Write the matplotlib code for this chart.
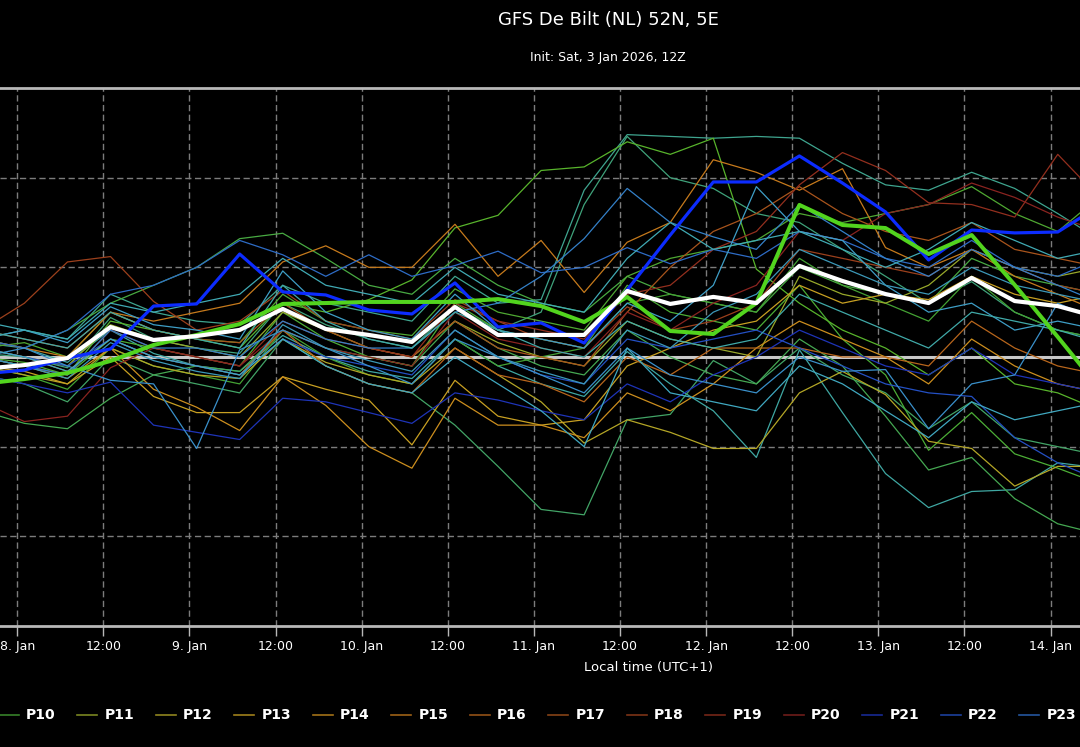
import pandas as pd
import matplotlib
matplotlib.use('Agg')
import matplotlib.pyplot as plt
from matplotlib.lines import Line2D

# 6-hourly steps, local time (UTC+1)
times = pd.date_range('2026-01-07 19:00', periods=27, freq='6h')

# ensemble members P01..P30 (deg C)
p01 = [0.8, 0.5, -0.3, 1.5, 0.2, -0.5, -0.8, 1.2, 0.0, -0.8, -1.2, 1.0, -0.5, -1.5, -2.2, 0.3, -1.5, -3.0, -5.6, 0.4, -3.1, -6.5, -8.4, -7.5, -7.4, -5.9, -6.2]
p02 = [1.0, 1.5, 1.0, 3.5, 2.5, 2.0, 1.8, 4.0, 3.0, 2.5, 2.0, 4.5, 3.0, 3.2, 9.3, 12.4, 12.3, 12.2, 12.3, 12.2, 10.8, 9.6, 9.3, 10.3, 9.4, 8.0, 6.5]
p03 = [0.2, 0.0, -0.6, 2.2, 1.0, 0.5, 0.2, 3.0, 1.8, 1.0, 0.5, 2.8, 1.5, 2.5, 8.5, 12.3, 10.0, 9.4, 8.0, 7.5, 6.0, 4.5, 3.0, 4.2, 2.5, 1.5, 1.0]
p04 = [-1.0, -1.5, -2.5, 0.0, -1.0, -1.5, -2.0, 1.0, -0.5, -1.5, -2.0, -3.8, -6.1, -8.5, -8.8, -3.5, -3.2, -0.2, -1.5, 0.5, -1.0, -2.0, -4.0, -2.5, -4.5, -5.0, -5.5]
p05 = [-3.0, -3.7, -4.0, -2.3, -1.0, -0.5, -0.8, 1.5, 0.5, 0.0, -0.5, 2.0, 0.5, -0.5, -1.0, 1.5, 0.0, -1.0, -1.5, 1.0, -0.5, -3.3, -6.3, -5.6, -7.9, -9.3, -9.9]
p06 = [1.0, 0.5, 1.5, 3.0, 4.0, 5.0, 6.6, 6.9, 5.5, 4.0, 3.5, 5.5, 4.0, 3.0, 2.5, 4.5, 3.5, 3.0, 2.5, 5.0, 4.0, 3.5, 3.0, 5.5, 4.5, 4.0, 3.5]
p07 = [0.0, -0.3, -1.0, 1.0, 0.5, 0.0, -0.5, 2.5, 1.0, 0.0, -0.5, 3.0, 1.5, 1.0, 0.5, 4.0, 2.5, 2.0, 1.5, 4.0, 1.0, -1.0, -5.2, -3.1, -5.4, -6.2, -7.1]
p08 = [0.0, -0.5, -1.0, 2.0, 1.5, 1.0, 0.5, 3.0, 2.5, 3.2, 4.3, 7.2, 7.9, 10.4, 10.6, 12.0, 11.3, 12.2, 4.9, 3.0, 1.5, 0.5, -1.0, 0.5, -1.5, -2.0, -3.0]
p09 = [0.5, 0.8, 0.0, 2.5, 1.5, 1.0, 0.8, 3.5, 2.0, 1.5, 1.2, 3.8, 2.5, 2.0, 1.5, 4.5, 5.5, 6.0, 6.5, 8.0, 7.5, 8.0, 8.5, 9.5, 8.0, 7.0, 9.0]
p10 = [-0.5, -1.0, -1.8, 0.5, -0.5, -1.0, -1.5, 1.5, 0.0, -1.0, -1.5, 1.0, -0.5, 0.0, 0.5, 3.0, 3.5, 3.0, 2.5, 5.5, 4.0, 3.0, 2.0, 4.5, 2.5, 1.5, 1.0]
p11 = [0.5, 0.0, -0.5, 1.8, 1.0, 0.5, 0.0, 2.5, 1.5, 0.5, 0.0, 2.0, 0.8, 0.0, -0.5, 2.0, 1.0, 0.5, 0.0, 4.5, 3.5, 3.0, 4.0, 6.0, 5.0, 4.5, 5.0]
p12 = [-0.5, -1.0, -1.5, 0.5, -0.5, -1.0, -1.2, 1.0, -0.3, -1.0, -1.5, 0.5, -1.0, -2.5, -4.8, -3.5, -4.2, -5.1, -5.1, -2.0, -0.8, -2.1, -4.7, -5.1, -7.2, -6.1, -6.1]
p13 = [-0.5, -0.8, -1.5, 0.0, -2.2, -3.1, -3.1, -1.1, -1.8, -2.4, -4.9, -1.3, -3.3, -3.8, -3.5, -0.5, 0.5, 1.5, 2.0, 4.0, 3.0, 3.5, 3.2, 4.5, 3.5, 3.0, 3.5]
p14 = [0.0, -0.5, -1.2, 0.5, -1.8, -2.8, -4.1, -1.1, -2.7, -5.0, -6.2, -2.3, -3.8, -3.8, -4.5, -2.0, -3.0, -1.5, 0.5, 2.0, 1.0, 0.0, -1.5, 1.0, -0.5, -1.5, -2.0]
p15 = [1.0, 0.5, 0.0, 2.5, 2.0, 2.5, 3.0, 5.3, 6.2, 5.0, 5.0, 7.4, 4.5, 6.5, 3.6, 6.4, 7.5, 11.0, 10.3, 9.3, 10.5, 6.1, 5.0, 6.0, 4.5, 3.5, 2.5]
p16 = [0.5, 0.0, -0.8, 1.0, 0.0, -0.5, -1.0, 1.5, -0.5, -1.5, -2.0, 0.5, -1.0, -1.5, -2.5, 0.0, -1.0, 0.5, 0.5, 0.5, 0.0, 0.0, -0.5, 2.0, 0.5, -0.5, -1.0]
p17 = [1.5, 1.0, 0.5, 2.5, 1.5, 1.0, 0.8, 3.0, 1.5, 0.5, 0.0, 2.0, 0.5, 0.0, -0.5, 2.5, 5.0, 7.0, 8.0, 9.5, 8.0, 7.0, 6.5, 7.5, 6.0, 5.5, 5.0]
p18 = [1.5, 3.0, 5.3, 5.6, 3.1, 1.5, 2.0, 3.7, 2.0, 1.5, 1.0, 3.2, 2.0, 1.0, 0.5, 2.8, 1.5, 2.0, 3.0, 6.0, 5.5, 5.0, 4.5, 6.0, 5.0, 4.0, 3.5]
p19 = [0.0, -0.5, -1.0, 1.5, 0.5, 0.0, -0.5, 2.0, 1.0, 0.5, 0.0, 3.0, 2.0, 1.5, 1.0, 3.5, 4.0, 6.0, 7.0, 9.6, 11.4, 10.4, 8.6, 8.5, 7.8, 11.3, 8.8]
p20 = [-2.5, -3.6, -3.3, -0.6, 0.5, 0.0, -0.5, 1.5, 0.5, 0.0, -0.5, 2.5, 1.0, 0.5, 0.0, 2.5, 1.5, 3.0, 4.0, 7.0, 6.5, 8.0, 8.5, 9.7, 8.9, 7.8, 7.0]
p21 = [-1.0, -1.5, -2.0, -1.4, -3.8, -4.2, -4.6, -2.3, -2.5, -3.1, -3.7, -2.0, -2.4, -3.0, -3.5, -1.5, -2.5, -1.0, 0.0, 1.5, 0.5, -0.5, -1.0, 0.5, -1.0, -1.5, -2.0]
p22 = [0.5, 0.0, -0.5, 1.0, 0.0, -0.5, -1.0, 1.0, 0.0, -0.5, -1.0, 1.5, 0.0, -1.0, -1.5, 1.0, 0.5, 1.0, 1.5, 0.5, -0.5, -1.5, -2.0, -2.2, -4.5, -5.9, -6.9]
p23 = [1.0, 0.5, 1.5, 3.5, 4.0, 5.0, 6.5, 5.7, 4.5, 5.7, 4.5, 5.1, 5.9, 4.7, 5.0, 6.1, 5.2, 6.0, 5.5, 7.0, 6.5, 5.5, 5.0, 6.5, 5.0, 4.5, 5.5]
p24 = [0.0, -0.5, -1.0, 1.5, 0.5, 0.5, 0.0, 2.0, 1.0, 0.5, 0.5, 2.5, 3.0, 4.5, 6.6, 9.4, 7.5, 6.7, 6.0, 8.5, 7.0, 5.5, 4.5, 6.0, 5.0, 4.0, 3.0]
p25 = [0.0, 0.5, -0.5, -1.3, -1.5, -5.1, 0.4, 1.5, 0.5, -0.5, -1.5, 1.0, 0.0, -1.0, -2.0, 0.5, -1.0, -1.5, -2.0, 0.0, -0.8, -0.7, -4.0, -1.5, -1.0, 3.0, 2.0]
p26 = [1.0, 1.5, 0.8, 2.8, 1.8, 1.5, 1.0, 4.8, 2.5, 1.5, 1.0, 3.5, 1.5, 1.0, 0.5, 3.0, 2.0, 4.0, 9.5, 7.0, 6.5, 4.0, 2.5, 3.0, 1.5, 2.0, 1.5]
p27 = [0.5, 0.0, -0.8, 1.0, 0.0, -0.5, -1.0, 1.0, -0.5, -1.5, -2.0, 0.0, -1.5, -3.0, -5.0, 0.5, -2.0, -2.5, -3.0, -0.5, -1.5, -3.0, -4.5, -2.5, -3.5, -3.0, -2.5]
p28 = [2.0, 1.5, 1.0, 3.0, 2.5, 3.0, 3.5, 5.5, 4.0, 3.5, 3.0, 5.0, 3.5, 3.0, 2.5, 5.5, 7.5, 6.0, 6.5, 7.0, 6.0, 5.0, 6.0, 7.5, 6.5, 5.5, 6.0]
p29 = [1.5, 1.0, 0.5, 2.5, 1.5, 1.0, 0.5, 4.0, 2.0, 1.0, 0.5, 2.5, 1.5, 0.5, 0.0, 2.0, 1.0, 0.5, 1.0, 3.5, 2.5, 1.5, 0.5, 2.5, 2.0, 1.5, 0.8]
p30 = [0.0, -0.5, -1.2, 0.8, -0.2, -0.8, -1.2, 1.8, 0.5, -0.2, -0.8, 1.5, 0.0, -0.8, -1.5, 1.5, 0.5, 2.5, 3.5, 6.0, 5.0, 4.0, 3.5, 5.0, 4.0, 3.5, 3.0]

members = [p01, p02, p03, p04, p05, p06, p07, p08, p09, p10,
           p11, p12, p13, p14, p15, p16, p17, p18, p19, p20,
           p21, p22, p23, p24, p25, p26, p27, p28, p29, p30]
member_names = ['P%02d' % (i + 1) for i in range(30)]
member_colors = ['#3fa7a2', '#3fa58f', '#3fa27a', '#42a466', '#45a852', '#48aa42', '#4cae36', '#58b42c', '#4fa832', '#44a234',
                 '#98a82a', '#b4a626', '#c8a022', '#cc8e1e', '#c67a1c', '#b8661c', '#a8541c', '#9c401c', '#932f1e', '#8a2420',
                 '#1e34b8', '#2450c4', '#2e6cc6', '#3480c8', '#3a90ca', '#3e9ec6', '#40a8c0', '#40aab4', '#40a9a8', '#3c98b8']

control = [-0.95, -0.73, -0.06, 0.45, 2.84, 2.96, 5.74, 3.63, 3.46, 2.62, 2.40, 4.13, 1.67, 1.90, 0.78, 3.74, 6.80, 9.76, 9.76, 11.21, 9.70, 8.09, 5.41, 7.08, 6.92, 6.97, 8.48]
oper = [-1.51, -1.23, -0.89, -0.22, 0.67, 1.23, 1.84, 2.96, 3.01, 3.07, 3.07, 3.07, 3.23, 2.84, 1.95, 3.35, 1.45, 1.28, 3.01, 8.48, 7.36, 7.19, 5.74, 6.80, 4.02, 1.12, -1.84]
mean = [-0.67, -0.45, -0.06, 1.67, 0.95, 1.17, 1.51, 2.68, 1.56, 1.23, 0.84, 2.79, 1.23, 1.23, 1.23, 3.68, 2.96, 3.35, 3.01, 5.08, 4.24, 3.51, 3.01, 4.41, 3.12, 2.84, 2.18]

tick_times = pd.date_range('2026-01-08 00:00', '2026-01-14 00:00', freq='12h')
tick_labels = ['8. Jan', '12:00', '9. Jan', '12:00', '10. Jan', '12:00', '11. Jan',
               '12:00', '12. Jan', '12:00', '13. Jan', '12:00', '14. Jan']

W, H = 1080, 747
fig = plt.figure(figsize=(W / 100, H / 100), dpi=100, facecolor='black')
ax = fig.add_axes([0, 1 - 626 / H, 1, 538 / H])
ax.set_facecolor('black')

for vals, col in zip(members, member_colors):
    ax.plot(times, vals, color=col, lw=0.9, zorder=2)
ax.plot(times, control, color='#0c2cff', lw=2.3, zorder=4)
ax.plot(times, oper, color='#52d41e', lw=2.9, zorder=5)
ax.plot(times, mean, color='white', lw=3.0, zorder=6)

t0 = pd.Timestamp('2026-01-08 00:00')
ax.set_xlim(t0 - pd.Timedelta(hours=2.4), t0 + pd.Timedelta(hours=148.1))
ax.set_ylim(-15, 15)

ax.set_xticks(tick_times)
ax.set_xticklabels(tick_labels)
ax.set_yticks([-10, -5, 5, 10])
ax.tick_params(axis='y', length=0, labelleft=False)
ax.tick_params(axis='x', colors='#b8b8b8', labelcolor='white', length=7,
               width=1, direction='out', labelsize=9, pad=3)
ax.grid(True, color='#7c7c7c', linestyle=(0, (4.5, 2.5)), linewidth=1, zorder=1)
ax.set_axisbelow(True)

for s in ['left', 'right', 'top']:
    ax.spines[s].set_visible(False)
ax.spines['bottom'].set_color('#b8b8b8')
ax.spines['bottom'].set_linewidth(2)
ax.axhline(15, color='#b8b8b8', lw=2, clip_on=False, zorder=1)
ax.axhline(0, color='#c8c8c8', lw=2.2, zorder=1.5)

fig.text(608 / W, 1 - 20 / H, 'GFS De Bilt (NL) 52N, 5E', ha='center', va='center',
         color='white', fontsize=13)
fig.text(608 / W, 1 - 57 / H, 'Init: Sat, 3 Jan 2026, 12Z', ha='center', va='center',
         color='white', fontsize=9)
fig.text(649 / W, 1 - 668 / H, 'Local time (UTC+1)', ha='center', va='center',
         color='white', fontsize=9.5)

# legend row: only the entries that fall inside the picture are drawn
for i, (name, col) in enumerate(zip(member_names, member_colors)):
    tx = 25.8 + 78.5 * (i - 9)
    if tx < 0 or tx + 32 > W:
        continue
    fig.add_artist(Line2D([max(tx - 27, 0) / W, (tx - 7) / W], [1 - 715 / H, 1 - 715 / H],
                          color=col, lw=1.2, alpha=0.8))
    fig.text(tx / W, 1 - 715 / H, name, ha='left', va='center', color='white',
             fontsize=10, fontweight='bold')

fig.savefig('out.png', dpi=100, facecolor='black')
